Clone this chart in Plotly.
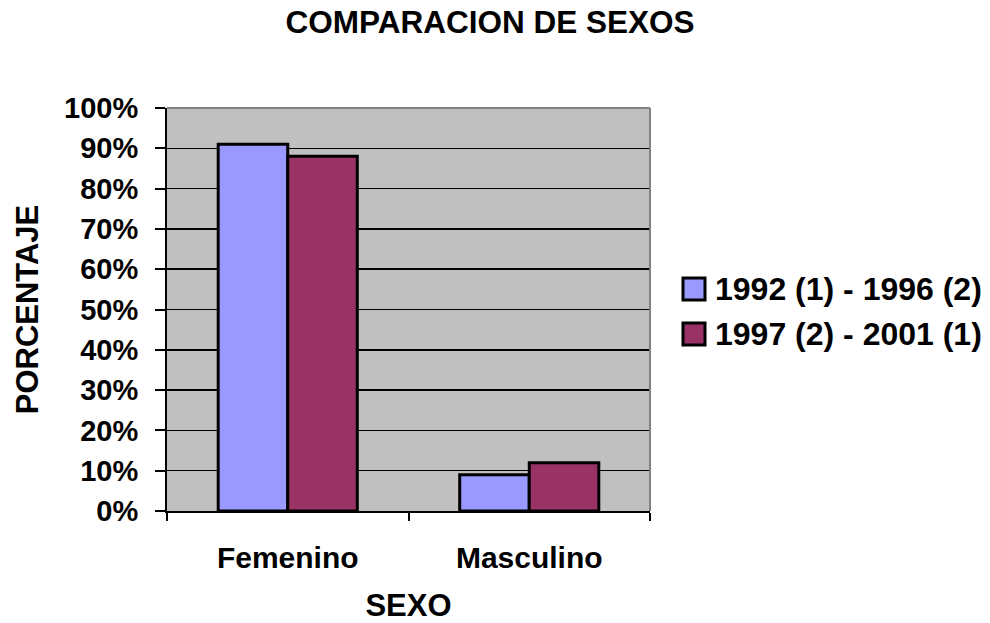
import plotly.graph_objects as go

categories = ["Femenino", "Masculino"]
series_names = ["1992 (1) - 1996 (2)", "1997 (2) - 2001 (1)"]
series_1 = [91, 9]
series_2 = [88, 12]
series_colors = ["#9999FF", "#993366"]
y_ticks = list(range(0, 101, 10))
y_tick_labels = [f"{v}%" for v in y_ticks]

W, H = 990, 623
# plot area in pixels
L, R, T, B = 167, 650, 108, 511
FONT = "Liberation Sans, Arial, sans-serif"

def px_x(px):
    return (px - L) / (R - L)

def px_y(py):
    return (B - py) / (B - T)

fig = go.Figure()
for name, vals, col in zip(series_names, [series_1, series_2], series_colors):
    fig.add_trace(go.Bar(
        x=categories, y=vals, name=name,
        marker=dict(color=col, line=dict(color="black", width=3)),
        showlegend=False, hoverinfo="skip",
    ))

fig.update_layout(
    width=W, height=H, autosize=False,
    margin=dict(l=L, r=W - R, t=T, b=H - B, pad=0, autoexpand=False),
    paper_bgcolor="white", plot_bgcolor="#C0C0C0",
    barmode="group", bargap=0.424, bargroupgap=0,
    font=dict(family=FONT, color="black", size=28, weight="bold"),
    title=dict(text="COMPARACION DE SEXOS", x=490 / W, xanchor="center",
               y=1 - 22 / H, yanchor="middle", yref="container",
               font=dict(family=FONT, size=31.5, weight="bold", color="black")),
)

fig.update_xaxes(
    automargin=False,
    showline=True, linecolor="black", linewidth=2,
    ticks="outside", ticklen=8, tickwidth=2, tickcolor="black",
    tickson="boundaries", showgrid=False,
    tickfont=dict(family=FONT, size=30, weight="bold"),
    ticklabelstandoff=19,
    title=dict(text="SEXO", standoff=22,
               font=dict(family=FONT, size=31, weight="bold")),
)
fig.update_yaxes(
    automargin=False,
    range=[0, 100], tickvals=y_ticks, ticktext=y_tick_labels,
    showline=True, linecolor="black", linewidth=2,
    ticks="outside", ticklen=10, tickwidth=2, tickcolor="black",
    showgrid=True, gridcolor="black", gridwidth=1.5,
    zeroline=False,
    tickfont=dict(family=FONT, size=29, weight="bold"),
    ticklabelstandoff=11,
    title=dict(text="PORCENTAJE", standoff=16,
               font=dict(family=FONT, size=31, weight="bold")),
)

# gray plot-area border on top and right
fig.add_shape(type="line", xref="paper", yref="paper", x0=0, x1=1, y0=1, y1=1,
              line=dict(color="#808080", width=2))
fig.add_shape(type="line", xref="paper", yref="paper", x0=1, x1=1, y0=0, y1=1,
              line=dict(color="#808080", width=2))

# legend drawn as boxes and text (pixel positions)
rows = [289, 334]
for name, col, cy in zip(series_names, series_colors, rows):
    fig.add_shape(type="rect", xref="paper", yref="paper",
                  x0=px_x(683), x1=px_x(705), y0=px_y(cy + 11), y1=px_y(cy - 11),
                  fillcolor=col, line=dict(color="black", width=3))
    fig.add_annotation(text=name, xref="paper", yref="paper",
                       x=px_x(713), y=px_y(cy), xanchor="left", yanchor="middle",
                       showarrow=False,
                       font=dict(family=FONT, size=32, weight="bold", color="black"))

fig.write_html("out.html",
               config={"displayModeBar": False, "staticPlot": True},
               post_script="document.body.style.margin='0px';"
                           "document.body.style.overflow='hidden';")
